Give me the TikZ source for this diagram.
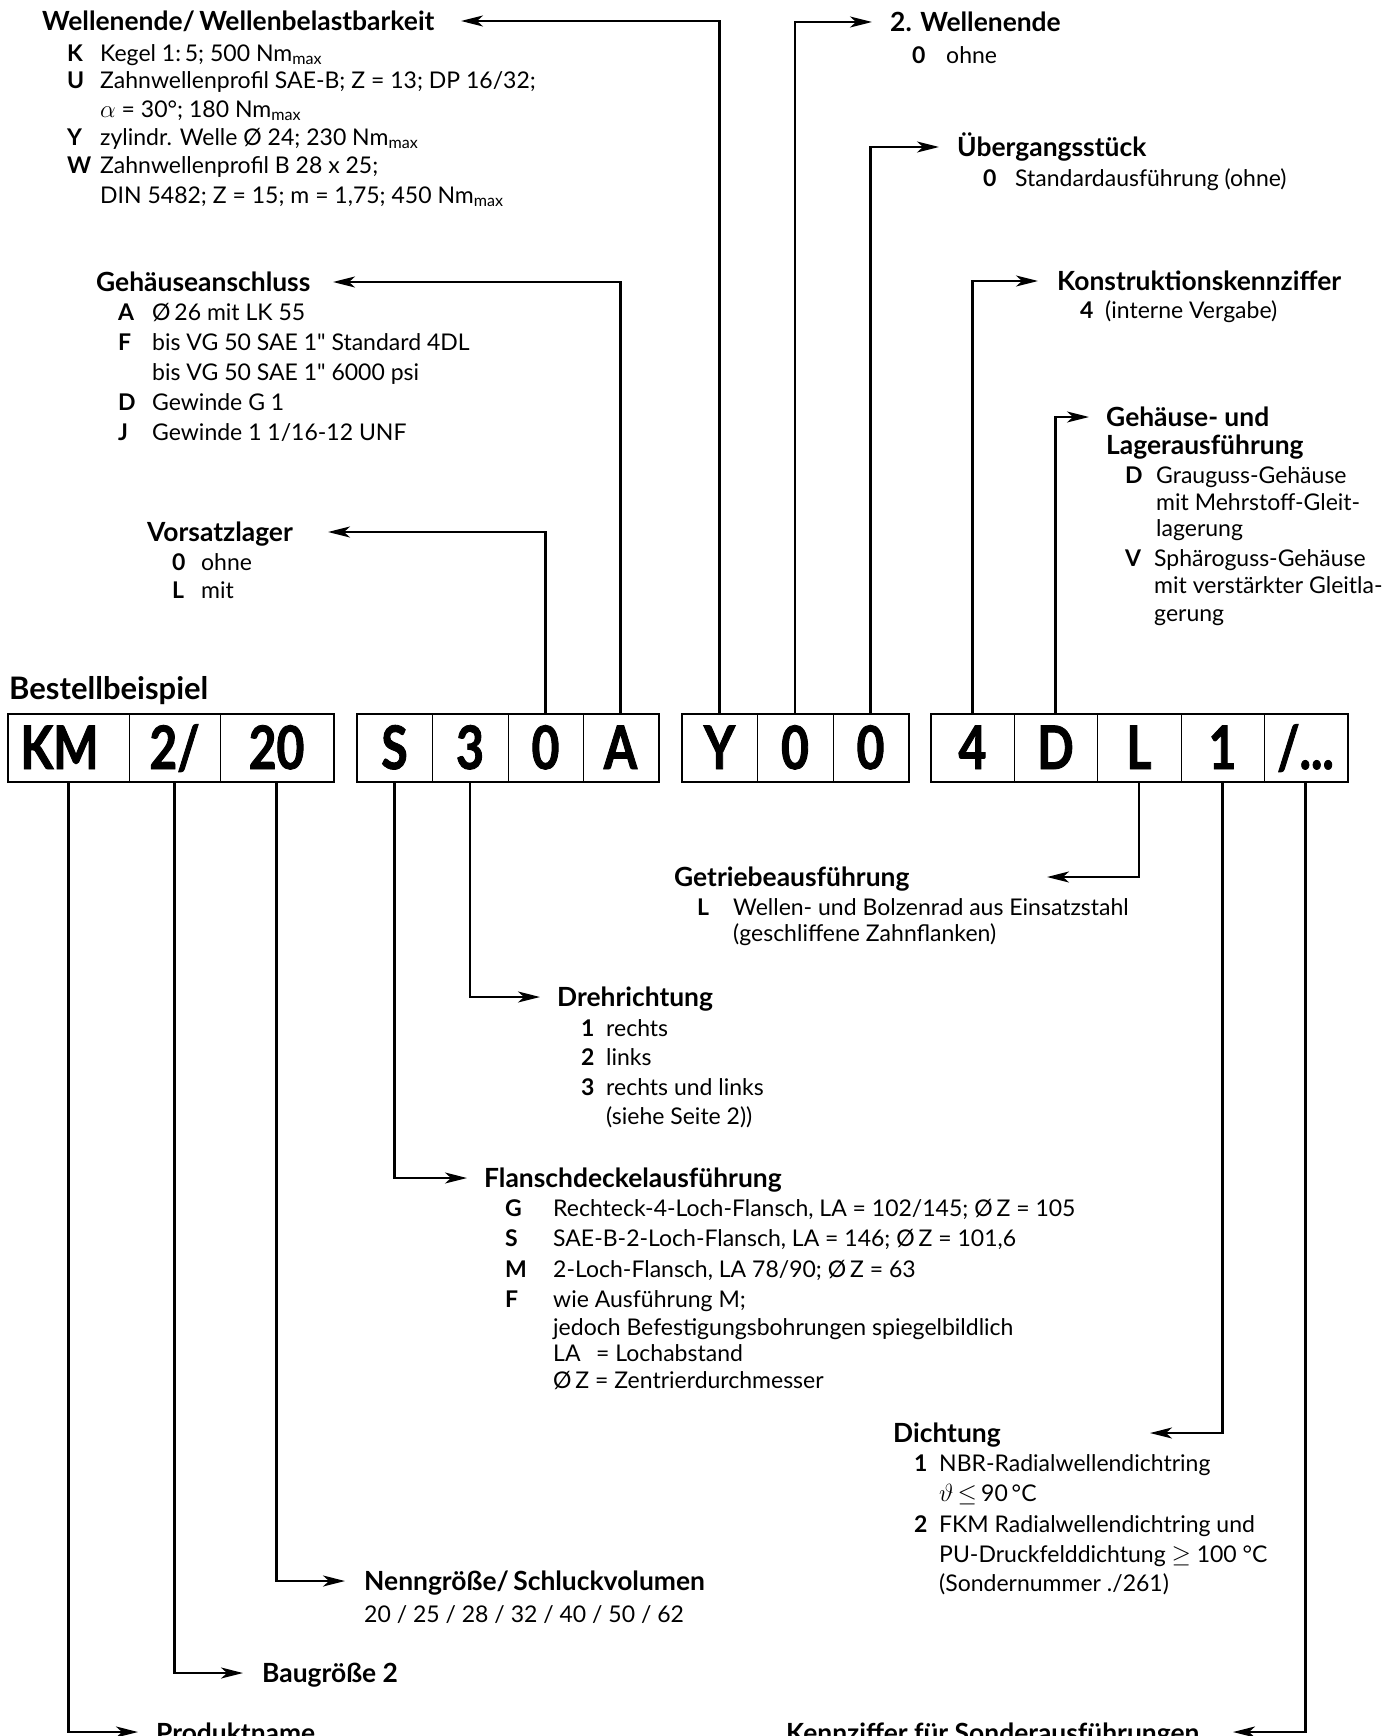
\documentclass[tikz,border=0pt]{standalone}
\usepackage{fontspec}
\setmainfont{Lato}[Ligatures=TeXOff]
\newfontfamily\boxfont{Lato}[FakeStretch=0.8,FakeBold=1.5]
\usetikzlibrary{arrows.meta}
\newcommand\bodysize{\fontsize{23}{27}\selectfont}
\newcommand\ttlsize{\fontsize{26.4}{28}\selectfont\bfseries}
\newcommand\mx{Nm\textsubscript{max}}
% item: name, keyx, textx, y, key, text
\newcommand\itm[6]{\node[keyt] (#1k) at (#2,#4) {#5}; \node[bodyt] (#1) at (#3,#4) {#6};}
\newcommand\cnt[4]{\node[bodyt] (#1) at (#2,#3) {#4};}
\begin{document}
\begin{tikzpicture}[x=1pt,y=-1pt,
  bodyt/.style={anchor=west,inner sep=0pt,font=\bodysize,text height=16.5pt,text depth=0pt},
  keyt/.style={bodyt,font=\bodysize\bfseries},
  ttl/.style={anchor=west,inner sep=0pt,font=\ttlsize,text height=18.9pt,text depth=0pt},
  cell/.style={draw,line width=1pt,minimum height=67pt,inner sep=0pt,
    font=\boxfont\bfseries\fontsize{60}{60}\selectfont,text height=43pt,text depth=0pt},
  frame/.style={line width=2pt},
  arr/.style={line width=2.2pt,line join=miter,-{Stealth[length=22pt,width=11pt,inset=6pt]}}]
\useasboundingbox (0,0) rectangle (1393,1736);
\clip (0,0) rectangle (1393,1736);
\fill[white] (0,0) rectangle (1393,1736);

% ---------- code boxes ----------
\node[cell,minimum width=121pt] (bKM) at (68.5,747.5) {KM\kern18pt};
\node[cell,minimum width=91pt]  (b2)  at (174.5,747.5) {2/};
\node[cell,minimum width=113pt] (b20) at (276.5,747.5) {20};
\node[cell,minimum width=75pt] (bS)  at (394.5,747.5) {S};
\node[cell,minimum width=76pt] (b3)  at (470,747.5) {3};
\node[cell,minimum width=75pt] (b0a) at (545.5,747.5) {0};
\node[cell,minimum width=75pt] (bA)  at (620.5,747.5) {A};
\node[cell,minimum width=75pt] (bY)  at (719.5,747.5) {Y};
\node[cell,minimum width=76pt] (b0b) at (795,747.5) {0};
\node[cell,minimum width=75pt] (b0c) at (870.5,747.5) {0};
\node[cell,minimum width=83pt] (b4)  at (972.5,747.5) {4};
\node[cell,minimum width=83pt] (bD)  at (1055.5,747.5) {D};
\node[cell,minimum width=84pt] (bL)  at (1139,747.5) {L};
\node[cell,minimum width=83pt] (b1)  at (1222.5,747.5) {1};
\node[cell,minimum width=83pt] (bX)  at (1305.5,747.5) {/...};
\draw[frame] (bKM.north west) rectangle (b20.south east);
\draw[frame] (bS.north west) rectangle (bA.south east);
\draw[frame] (bY.north west) rectangle (b0c.south east);
\draw[frame] (b4.north west) rectangle (bX.south east);

\node[ttl,font=\fontsize{31}{33}\selectfont\bfseries,text height=22pt] (tBest) at (9,688) {Bestellbeispiel};

% ---------- Wellenende ----------
\node[ttl] (tWell) at (42,21) {Wellenende/\,Wellenbelastbarkeit};
\coordinate (cWell) at (461,21);
\itm{w1}{67}{100}{53}{K}{Kegel 1:\,5; 500 \mx}
\itm{w2}{67}{100}{80}{U}{Zahnwellenprofil SAE-B; Z = 13; DP 16/32;}
\cnt{w3}{100}{109}{$\alpha$ = 30°; 180 \mx}
\itm{w4}{67}{100}{137}{Y}{zylindr. Welle Ø 24; 230 \mx}
\itm{w5}{67}{100}{165}{W}{Zahnwellenprofil B 28 x 25;}
\cnt{w6}{100}{195}{DIN 5482; Z = 15; m = 1,75; 450 \mx}

% ---------- Gehaeuseanschluss ----------
\node[ttl] (tAns) at (96,282) {Gehäuseanschluss};
\coordinate (cAns) at (333,282);
\itm{a1}{118}{152}{312}{A}{Ø\,26 mit LK 55}
\itm{a2}{118}{152}{342}{F}{bis VG 50 SAE 1" Standard 4DL}
\cnt{a3}{152}{372}{bis VG 50 SAE 1" 6000 psi}
\itm{a4}{118}{152}{402}{D}{Gewinde G 1}
\itm{a5}{118}{152}{432}{J}{Gewinde 1 1/16-12 UNF}

% ---------- Vorsatzlager ----------
\node[ttl] (tVor) at (147,532) {Vorsatzlager};
\coordinate (cVor) at (328,532);
\itm{v1}{172}{201}{562}{0}{ohne}
\itm{v2}{172}{201}{590}{L}{mit}

% ---------- 2. Wellenende ----------
\node[ttl] (tWel2) at (890,22) {2. Wellenende};
\coordinate (cWel2) at (872,22);
\itm{z1}{912}{946}{55}{0}{ohne}

% ---------- Uebergangsstueck ----------
\node[ttl] (tUeb) at (957,147) {Übergangsstück};
\coordinate (cUeb) at (939,147);
\itm{u1}{983}{1015}{178}{0}{Standardausführung (ohne)}

% ---------- Konstruktionskennziffer ----------
\node[ttl] (tKon) at (1057,281) {Konstruktionskennziffer};
\coordinate (cKon) at (1038,281);
\itm{k1}{1080}{1105}{310}{4}{(interne Vergabe)}

% ---------- Gehaeuse- und Lagerausfuehrung ----------
\node[ttl] (tGeh) at (1106,417) {Gehäuse- und};
\node[ttl] (tGeh2) at (1106,445) {Lagerausführung};
\coordinate (cGeh) at (1089,417);
\itm{g1}{1125}{1156}{475}{D}{Grauguss-Gehäuse}
\cnt{g2}{1156}{502}{mit Mehrstoff-Gleit-}
\cnt{g3}{1156}{528}{lagerung}
\itm{g4}{1125}{1154}{558}{V}{Sphäroguss-Gehäuse}
\cnt{g5}{1154}{585}{mit verstärkter Gleitla-}
\cnt{g6}{1154}{613}{gerung}

% ---------- Getriebeausfuehrung ----------
\node[ttl] (tGet) at (674,877) {Getriebeausführung};
\coordinate (cGet) at (1047,877);
\itm{e1}{697}{733}{907}{L}{Wellen- und Bolzenrad aus Einsatzstahl}
\cnt{e2}{733}{933}{(geschliffene Zahnflanken)}

% ---------- Drehrichtung ----------
\node[ttl] (tDre) at (557,997) {Drehrichtung};
\coordinate (cDre) at (540,997);
\itm{d1}{581}{606}{1028}{1}{rechts}
\itm{d2}{581}{606}{1057}{2}{links}
\itm{d3}{581}{606}{1087}{3}{rechts und links}
\cnt{d4}{606}{1116}{(siehe Seite 2))}

% ---------- Flanschdeckelausfuehrung ----------
\node[ttl] (tFla) at (484,1178) {Flanschdeckelausführung};
\coordinate (cFla) at (467,1178);
\itm{f1}{505}{553}{1208}{G}{Rechteck-4-Loch-Flansch, LA = 102/145; Ø\,Z = 105}
\itm{f2}{505}{553}{1238}{S}{SAE-B-2-Loch-Flansch, LA = 146; Ø\,Z = 101,6}
\itm{f3}{505}{553}{1269}{M}{2-Loch-Flansch, LA 78/90; Ø\,Z = 63}
\itm{f4}{505}{553}{1299}{F}{wie Ausführung M;}
\cnt{f5}{553}{1327}{jedoch Befestigungsbohrungen spiegelbildlich}
\cnt{f6}{553}{1353}{LA\ \ \,= Lochabstand}
\cnt{f7}{553}{1380}{Ø\,Z = Zentrierdurchmesser}

% ---------- Dichtung ----------
\node[ttl] (tDic) at (893,1433) {Dichtung};
\coordinate (cDic) at (1150,1433);
\itm{h1}{914}{939}{1463}{1}{NBR-Radialwellendichtring}
\cnt{h2}{939}{1493}{$\vartheta\,{\leq}\,$90\,°C}
\itm{h3}{914}{939}{1524}{2}{FKM Radialwellendichtring und}
\cnt{h4}{939}{1554}{PU-Druckfelddichtung $\geq$ 100 °C}
\cnt{h5}{939}{1583}{(Sondernummer ./261)}

% ---------- Nenngroesse ----------
\node[ttl] (tNen) at (364,1581) {Nenngröße/\,Schluckvolumen};
\coordinate (cNen) at (345,1581);
\cnt{n1}{364}{1614}{20 / 25 / 28 / 32 / 40 / 50 / 62}

% ---------- Baugroesse ----------
\node[ttl] (tBau) at (262,1673) {Baugröße 2};
\coordinate (cBau) at (243,1673);

% ---------- bottom row (cut off) ----------
\node[ttl] (tPro) at (156,1733) {Produktname};
\coordinate (cPro) at (138,1732);
\node[ttl] (tKen) at (786,1733) {Kennziffer für Sonderausführungen};
\coordinate (cKen) at (1233,1732);

% ---------- connectors ----------
\draw[arr] (bY.north) |- (cWell);
\draw[arr] (b0b.north) |- (cWel2);
\draw[arr] (b0c.north) |- (cUeb);
\draw[arr] (b4.north) |- (cKon);
\draw[arr] (bD.north) |- (cGeh);
\draw[arr] (bA.north) |- (cAns);
\draw[arr] (b0a.north) |- (cVor);
\draw[arr] (bKM.south) |- (cPro);
\draw[arr] (b2.south) |- (cBau);
\draw[arr] (b20.south) |- (cNen);
\draw[arr] (bS.south) |- (cFla);
\draw[arr] (b3.south) |- (cDre);
\draw[arr] (bL.south) |- (cGet);
\draw[arr] (b1.south) |- (cDic);
\draw[arr] (bX.south) |- (cKen);
\end{tikzpicture}
\end{document}
